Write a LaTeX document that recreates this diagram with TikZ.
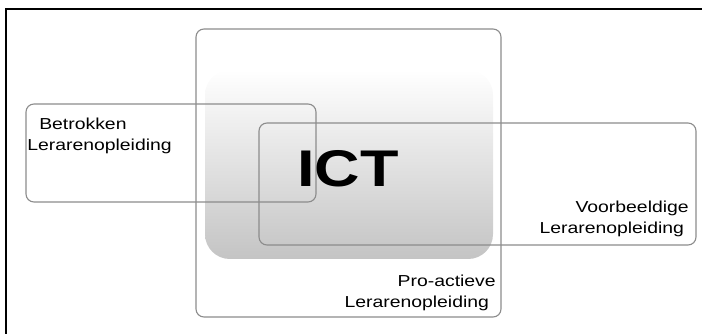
\documentclass[tikz,border=0pt]{standalone}
\usepackage{fontspec}
\newfontfamily\kaderfont[FakeStretch=1.22]{Liberation Sans}
\definecolor{randgrijs}{RGB}{140,140,140}
\definecolor{ictgrijs}{RGB}{196,196,196}

\begin{document}
\begin{tikzpicture}[
  kader/.style={draw=randgrijs, line width=0.8pt, rounded corners=0.2cm},
  tekst/.style={inner sep=0pt, font=\kaderfont\fontsize{11.3pt}{15.2pt}\selectfont}
]
\useasboundingbox (0,0) rectangle (17.55,8.35);
%\draw [help lines] (0,0) grid (17,8);
\draw [line width=0.9pt] (0.15,0)--(0.15,8.125)--(17.55,8.125);

% ICT blok met verloop
\shade [top color=white, bottom color=ictgrijs, rounded corners=0.62cm] (5.125,1.875) rectangle (12.325,6.6);

\draw [kader] (4.9,0.425) rectangle (12.525,7.625);
\draw [kader] (0.65,3.3) rectangle (7.9,5.75);
\draw [kader] (6.475,2.225) rectangle (17.4,5.275);

\node (ict) at (8.7,4.14) {\kaderfont\bfseries\fontsize{36.7pt}{40pt}\selectfont ICT};

\node [tekst, anchor=west, align=left] (betrokken) at (0.675,4.95) {\hspace*{0.3cm}Betrokken\\Lerarenopleiding};
\node [tekst, anchor=east, align=right] (voorbeeldig) at (17.225,2.875) {Voorbeeldige\\Lerarenopleiding\hspace*{0.12cm}};
\node [tekst, anchor=east, align=right] (proactief) at (12.4,1.025) {Pro-actieve\\Lerarenopleiding\hspace*{0.17cm}};

\end{tikzpicture}
\end{document}
